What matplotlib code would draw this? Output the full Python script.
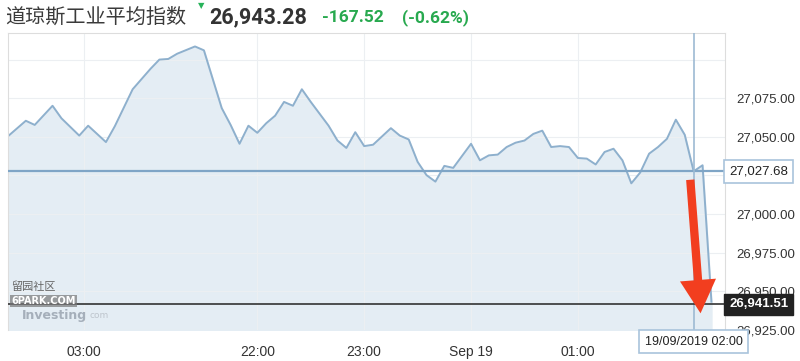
import matplotlib.pyplot as plt
import matplotlib.transforms as mtransforms

# 5-minute bars (index) and index level
bars = [0, 2, 3, 5, 6, 8, 9, 11, 12, 14, 16, 17, 18, 19, 21, 22, 24, 25, 26, 27,
        28, 29, 30, 31, 32, 33, 34, 36, 37, 38, 39, 40, 41, 43, 44, 45, 46, 47, 48, 49,
        50, 52, 53, 54, 55, 56, 57, 58, 59, 60, 61, 62, 63, 64, 65, 66, 67, 68, 69, 70,
        71, 72, 73, 74, 75, 76, 77, 78, 79]
values = [27050.4, 27060.4, 27057.7, 27070.1, 27062.0, 27050.8, 27057.2, 27046.6, 27056.9, 27080.8,
          27094.0, 27100.0, 27100.4, 27103.8, 27108.5, 27106.0, 27068.6, 27057.7, 27045.5, 27057.2,
          27052.6, 27058.8, 27063.7, 27072.6, 27070.1, 27080.8, 27072.6, 27057.2, 27047.6, 27042.8,
          27053.0, 27044.0, 27044.9, 27055.6, 27050.8, 27048.3, 27033.8, 27025.2, 27021.0, 27031.2,
          27029.9, 27045.5, 27034.8, 27038.0, 27038.5, 27043.4, 27046.2, 27047.6, 27051.9, 27054.0,
          27043.4, 27044.0, 27043.4, 27036.3, 27035.9, 27032.1, 27040.2, 27042.3, 27034.8, 27019.9,
          27026.9, 27039.1, 27043.4, 27048.7, 27061.1, 27051.3, 27027.68, 27031.6, 26943.28]

tick_pos = [8.5, 28, 40, 52, 64]
tick_labels = ['03:00', '22:00', '23:00', 'Sep 19', '01:00']
yticks = [26925, 26950, 26975, 27000, 27025, 27050, 27075, 27100]
hidden_yticks = [27025, 27100]

title = '道琼斯工业平均指数'
last_price = '26,943.28'
change = '-167.52'
change_pct = '(-0.62%)'

cross_bar = 77
cross_value = 27027.68
cross_date = '19/09/2019 02:00'
last_line_value = 26941.51

fig = plt.figure(figsize=(8, 3.61), dpi=100)
ax = fig.add_axes([0.01, 0.086, 0.896, 0.823])

line_color = '#8eb0cd'
ax.fill_between(bars, values, 26900, color='#e4edf4', zorder=1)
ax.plot(bars, values, color=line_color, lw=1.4, zorder=2)

ax.set_xlim(0, 80.5)
ax.set_ylim(26926.9, 27117.3)

ax.set_xticks(tick_pos)
ax.set_xticklabels(tick_labels, family=['Liberation Sans', 'DejaVu Sans'])
ax.set_yticks(yticks)
ax.set_yticklabels(['' if v in hidden_yticks else f'{v:,.2f}' for v in yticks],
                   family=['Liberation Sans', 'DejaVu Sans'])
ax.yaxis.tick_right()
ax.tick_params(axis='x', length=0, pad=11, labelsize=10, colors='#333333')
ax.tick_params(axis='y', length=0, pad=8, labelsize=9.5, colors='#333333')
ax.grid(True, color='#eceff2', lw=0.8, zorder=0)
for s in ax.spines.values():
    s.set_color('#dddddd')
    s.set_linewidth(0.8)
ax.spines['bottom'].set_visible(False)

# crosshair
ax.axhline(cross_value, color='#7fa5c6', lw=1.6, zorder=3)
ax.axvline(cross_bar, color='#9dbad3', lw=1.2, zorder=3)
ax.axhline(last_line_value, color='#333333', lw=1.2, zorder=3)

yx = mtransforms.blended_transform_factory(ax.transAxes, ax.transData)
ax.text(1.006, cross_value, f'{cross_value:,.2f}', transform=yx, ha='left', va='center',
        fontsize=9.5, color='#222222', zorder=6, clip_on=False,
        family=['Liberation Sans', 'DejaVu Sans'],
        bbox=dict(boxstyle='square,pad=0.4', fc='white', ec='#a9c4dc', lw=1.2))
ax.text(1.006, last_line_value, f'{last_line_value:,.2f}', transform=yx, ha='left', va='center',
        fontsize=9.5, color='white', fontweight='bold', zorder=6, clip_on=False,
        family=['Liberation Sans', 'DejaVu Sans'],
        bbox=dict(boxstyle='square,pad=0.35', fc='#222222', ec='#222222'))

xy = mtransforms.blended_transform_factory(ax.transData, ax.transAxes)
ax.text(cross_bar, -0.04, cross_date, transform=xy, ha='center', va='center',
        fontsize=9, color='#222222', zorder=6, clip_on=False,
        family=['Liberation Sans', 'DejaVu Sans'],
        bbox=dict(boxstyle='square,pad=0.45', fc='white', ec='#a9c4dc', lw=1.2))

# red arrow
ax.annotate('', xy=(77.8, 26934), xytext=(76.6, 27024),
            arrowprops=dict(arrowstyle='simple,head_length=2.4,head_width=2.6,tail_width=0.6',
                            mutation_scale=10, color='#f23e1f', lw=0),
            zorder=7)

# watermarks
ax.text(0.02, 0.05, 'Investing', transform=ax.transAxes, fontsize=9, fontweight='bold',
        color='#9aa4b0', alpha=0.85, ha='left', va='center', zorder=2)
ax.text(0.114, 0.047, 'com', transform=ax.transAxes, fontsize=6.5,
        color='#b7bec6', alpha=0.85, ha='left', va='center', zorder=2)
fig.text(0.014, 0.205, '留园社区', family=['Noto Sans CJK SC', 'DejaVu Sans'], fontsize=8,
         color='#666666', ha='left', va='center')
fig.text(0.014, 0.165, '6PARK.COM', fontsize=7, color='white', fontweight='bold',
         ha='left', va='center',
         bbox=dict(boxstyle='square,pad=0.1', fc='#777777', ec='none', alpha=0.7))

# header
fig.text(0.006, 0.952, title, family=['Noto Sans CJK SC', 'DejaVu Sans'], fontsize=14.5,
         fontweight='medium', color='#3a3a3a', ha='left', va='center')
fig.text(0.251, 0.985, '▼', fontsize=6, color='#27b35a', ha='center', va='center')
fig.text(0.262, 0.952, last_price, family=['Roboto', 'DejaVu Sans'], fontsize=15.5,
         fontweight='bold', color='#333333', ha='left', va='center')
fig.text(0.402, 0.952, change, family=['Roboto', 'DejaVu Sans'], fontsize=12.5,
         fontweight='bold', color='#28a94f', ha='left', va='center')
fig.text(0.503, 0.952, change_pct, family=['Roboto', 'DejaVu Sans'], fontsize=12.5,
         fontweight='bold', color='#28a94f', ha='left', va='center')

fig.savefig('out.png', dpi=100, facecolor='white')
